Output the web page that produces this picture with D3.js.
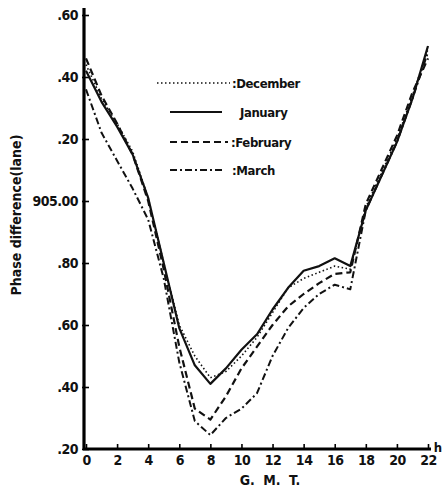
<!DOCTYPE html>
<html>
<head>
<meta charset="utf-8">
<script src="https://cdn.jsdelivr.net/npm/d3@7"></script>
<style>
  body { margin: 0; background: #fff; }
  svg { display: block; }
  text { font-family: "Liberation Sans Narrow", "DejaVu Sans Condensed", "Liberation Sans", sans-serif; font-weight: bold; fill: #111; }
</style>
</head>
<body>
<svg></svg>
<script>
const width = 447,
      height = 492

// G.M.T. hours
const hours = [0, 1, 2, 3, 4, 5, 6, 7, 8, 9, 10, 11, 12, 13, 14, 15, 16, 17, 18, 19, 20, 21, 22]

// phase difference (lane)
const december = [905.44, 905.33, 905.25, 905.16, 905.01, 904.80, 904.60, 904.50, 904.43, 904.45, 904.50, 904.56,
                  904.64, 904.72, 904.75, 904.77, 904.79, 904.78, 904.98, 905.09, 905.20, 905.34, 905.49]
const january  = [905.42, 905.32, 905.24, 905.15, 905.01, 904.80, 904.59, 904.47, 904.41, 904.46, 904.52, 904.57,
                  904.65, 904.72, 904.775, 904.79, 904.815, 904.79, 904.97, 905.08, 905.19, 905.33, 905.50]
const february = [905.46, 905.34, 905.25, 905.15, 905.00, 904.78, 904.53, 904.33, 904.295, 904.37, 904.46, 904.53,
                  904.60, 904.66, 904.70, 904.735, 904.765, 904.77, 904.99, 905.10, 905.21, 905.35, 905.46]
const march    = [905.36, 905.22, 905.13, 905.04, 904.94, 904.75, 904.48, 904.29, 904.245, 904.30, 904.33, 904.38,
                  904.50, 904.59, 904.655, 904.70, 904.73, 904.715, 904.97, 905.08, 905.19, 905.33, 905.48]

const months = ["December", "January", "February", "March"]
const legendLabels = [":December", "January", ":February", ":March"]
const xTicks = [0, 2, 4, 6, 8, 10, 12, 14, 16, 18, 20, 22]
const yTicks = [904.2, 904.4, 904.6, 904.8, 905.0, 905.2, 905.4, 905.6]

const series = [december, january, february, march]
const dashes = d3.scaleOrdinal().domain(months).range(["1.5,2.5", null, "7,4", "7,3,2,3"])
const widths = d3.scaleOrdinal().domain(months).range([1.6, 2.2, 2.2, 2])

const x = d3.scaleLinear().domain([0, 22]).range([86, 428])
const y = d3.scaleLinear().domain([904.2, 905.6]).range([449, 15])

const svg = d3.select("svg")
  .attr("width", width)
  .attr("height", height)

const fmtY = v => Math.abs(v - 905) < 1e-6 ? "905.00" : d3.format(".2f")(v).slice(3)

const yAxis = svg.append("g")
  .attr("transform", `translate(${x(0) - 2},0)`)
  .call(d3.axisLeft(y).tickValues(yTicks).tickSize(-5).tickPadding(6).tickFormat(fmtY))
yAxis.select(".domain").attr("d", `M0,8V${y(904.2) + 1}`).attr("stroke-width", 3.2)
yAxis.selectAll(".tick line").attr("stroke-width", 1.6).attr("x1", -2)
yAxis.selectAll(".tick text").attr("font-size", 14).attr("fill", "#111").style("letter-spacing", "-0.5px")

const xAxis = svg.append("g")
  .attr("transform", `translate(0,${y(904.2)})`)
  .call(d3.axisBottom(x).tickValues(xTicks).tickSize(-5).tickPadding(6).tickFormat(d3.format("d")))
xAxis.select(".domain").attr("d", `M${x(0) - 3},0H${x(22) + 3}`).attr("stroke-width", 3.2)
xAxis.selectAll(".tick line").attr("stroke-width", 1.6)
xAxis.selectAll(".tick text").attr("font-size", 14).attr("fill", "#111").style("letter-spacing", "-0.5px")
xAxis.append("text")
  .attr("x", x(22) + 10).attr("y", 3)
  .attr("font-size", 13)
  .text("h")

svg.append("text")
  .attr("transform", "translate(21,215) rotate(-90)")
  .attr("text-anchor", "middle")
  .attr("font-size", 14)
  .text("Phase difference(lane)")

svg.append("text")
  .attr("x", 270).attr("y", 485)
  .attr("text-anchor", "middle")
  .attr("font-size", 14)
  .style("word-spacing", "4px")
  .text("G. M. T.")

const line = d3.line()
  .x((d, i) => x(hours[i]))
  .y(d => y(d))

svg.selectAll("path.month")
  .data(series)
  .enter().append("path")
    .attr("class", "month")
    .attr("d", line)
    .attr("fill", "none")
    .attr("stroke", "#111")
    .attr("stroke-width", (d, i) => widths(months[i]))
    .attr("stroke-dasharray", (d, i) => dashes(months[i]))
    .attr("stroke-linejoin", "round")

// legend
const legend = svg.append("g")
const rows = legend.selectAll("g")
  .data(months)
  .enter().append("g")
    .attr("transform", (d, i) => `translate(0,${[83, 112, 142, 170][i]})`)

rows.append("line")
  .attr("x1", (d, i) => i === 0 ? 157 : 170)
  .attr("x2", (d, i) => [230, 222, 228, 225][i])
  .attr("stroke", "#111")
  .attr("stroke-width", d => widths(d))
  .attr("stroke-dasharray", d => dashes(d))

rows.append("text")
  .attr("x", (d, i) => [232, 240, 231, 232][i])
  .attr("y", 5)
  .attr("font-size", 13)
  .style("letter-spacing", "-0.4px")
  .text((d, i) => legendLabels[i])
</script>
</body>
</html>
